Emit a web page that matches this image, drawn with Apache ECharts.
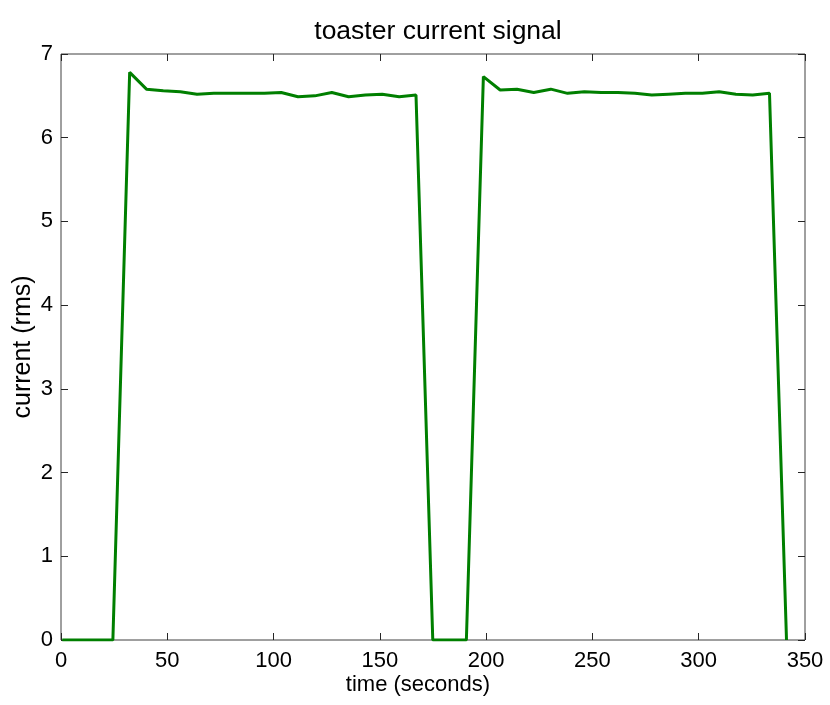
<!DOCTYPE html>
<html>
<head>
<meta charset="utf-8">
<script src="https://cdn.jsdelivr.net/npm/echarts@6/dist/echarts.min.js"></script>
<style>
  html, body { margin: 0; padding: 0; background: #fff; }
  #chart { width: 830px; height: 705px; }
</style>
</head>
<body>
<div id="chart"></div>
<script>
// sample times (seconds)
const times = [
  0.6, 8.5, 16.5, 24.4, 32.3, 40.2, 48.1, 56.1, 64.0, 71.9, 79.8,
  87.8, 95.7, 103.6, 111.5, 119.4, 127.4, 135.3, 143.2, 151.1, 159.1,
  167.0, 174.9, 182.8, 190.7, 198.7, 206.6, 214.5, 222.4, 230.4, 238.3,
  246.2, 254.1, 262.0, 270.0, 277.9, 285.8, 293.7, 301.7, 309.6, 317.5,
  325.4, 333.3, 341.3
];
// rms current
const current = [
  0, 0, 0, 0, 6.78, 6.58, 6.56, 6.55, 6.52, 6.53, 6.53,
  6.53, 6.53, 6.54, 6.49, 6.50, 6.54, 6.49, 6.51, 6.52, 6.49,
  6.51, 0, 0, 0, 6.73, 6.57, 6.58, 6.54, 6.58, 6.53,
  6.55, 6.54, 6.54, 6.53, 6.51, 6.52, 6.53, 6.53, 6.55, 6.52,
  6.51, 6.53, 0
];

const font = 'Liberation Sans, Arial, sans-serif';
const chart = echarts.init(document.getElementById('chart'));

// box is drawn by the grid border, axes only give ticks and labels
const noLine = { show: false, onZero: false };
const tickIn = { show: true, inside: true, length: 7, lineStyle: { color: '#262626' } };

chart.setOption({
  animation: false,
  title: {
    text: 'toaster current signal',
    left: 433,
    textAlign: 'center',
    top: 13,
    textStyle: { fontFamily: font, fontSize: 26.5, fontWeight: 'normal', color: '#000' }
  },
  grid: {
    left: 61, right: 25, top: 54, bottom: 65,
    containLabel: false,
    outerBoundsMode: 'none',
    show: true,
    borderColor: '#404040',
    borderWidth: 1
  },
  xAxis: [{
    type: 'value',
    min: 0, max: 350, interval: 50,
    name: 'time (seconds)',
    nameLocation: 'middle',
    nameGap: 34,
    nameMoveOverlap: false,
    nameTextStyle: { fontFamily: font, fontSize: 22, color: '#000', padding: [0, 30, 0, 0] },
    axisLine: noLine,
    axisTick: tickIn,
    axisLabel: { fontFamily: font, fontSize: 22, color: '#000', margin: 10 },
    splitLine: { show: false }
  }, {
    type: 'value',
    position: 'top',
    min: 0, max: 350, interval: 50,
    axisLine: noLine,
    axisTick: tickIn,
    axisLabel: { show: false },
    splitLine: { show: false }
  }],
  yAxis: [{
    type: 'value',
    min: 0, max: 7, interval: 1,
    name: 'current (rms)',
    nameLocation: 'middle',
    nameGap: 25,
    nameMoveOverlap: false,
    nameTextStyle: { fontFamily: font, fontSize: 25, color: '#000' },
    axisLine: noLine,
    axisTick: tickIn,
    axisLabel: { fontFamily: font, fontSize: 22, color: '#000', margin: 8 },
    splitLine: { show: false }
  }, {
    type: 'value',
    position: 'right',
    min: 0, max: 7, interval: 1,
    axisLine: noLine,
    axisTick: tickIn,
    axisLabel: { show: false },
    splitLine: { show: false }
  }],
  series: [{
    type: 'line',
    data: times.map((t, i) => [t, current[i]]),
    showSymbol: false,
    lineStyle: { color: '#007f00', width: 3 },
    itemStyle: { color: '#007f00' }
  }]
});
</script>
</body>
</html>
